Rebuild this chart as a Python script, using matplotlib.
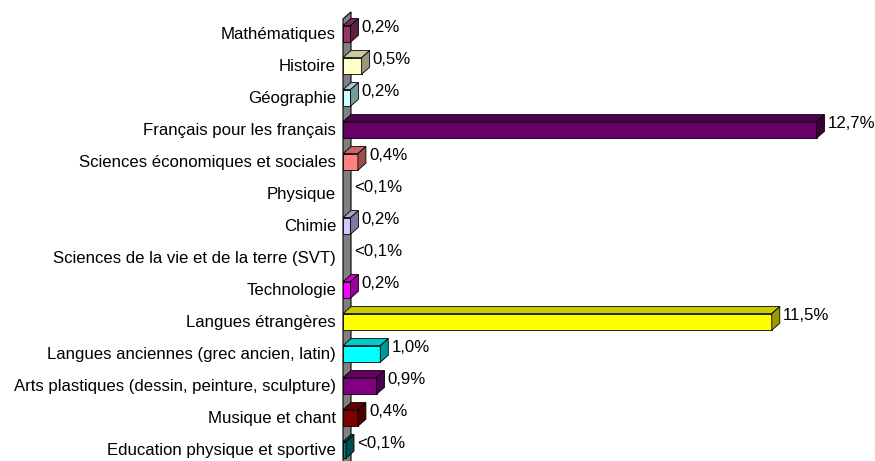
import matplotlib
matplotlib.use('Agg')
import matplotlib.pyplot as plt
from matplotlib.patches import Polygon
import matplotlib.colors as mcolors

plt.rcParams['font.family'] = ['Liberation Sans', 'DejaVu Sans']

subjects = ['Mathématiques', 'Histoire', 'Géographie', 'Français pour les français',
            'Sciences économiques et sociales', 'Physique', 'Chimie',
            'Sciences de la vie et de la terre (SVT)', 'Technologie', 'Langues étrangères',
            'Langues anciennes (grec ancien, latin)', 'Arts plastiques (dessin, peinture, sculpture)',
            'Musique et chant', 'Education physique et sportive']
values = [0.2, 0.5, 0.2, 12.7, 0.4, 0.0, 0.2, 0.0, 0.2, 11.5, 1.0, 0.9, 0.4, 0.08]
labels = ['0,2%', '0,5%', '0,2%', '12,7%', '0,4%', '<0,1%', '0,2%', '<0,1%', '0,2%',
          '11,5%', '1,0%', '0,9%', '0,4%', '<0,1%']
colors = ['#993366', '#FFFFCC', '#CCFFFF', '#660066', '#FF8080', '#0066CC', '#CCCCFF',
          '#000080', '#FF00FF', '#FFFF00', '#00FFFF', '#800080', '#800000', '#008080']

fig = plt.figure(figsize=(8.75, 4.61), dpi=100)
ax = fig.add_axes([343 / 875, 0, 522 / 875, 1])
ax.set_xlim(0, 14)
ax.set_ylim(13.375, -1.031)

dx = 0.2145   # depth in % units
dy = 0.22     # depth in row units
h = 0.52
off = 0.03
fs = 12.1


def shade(c, f):
    r, g, b = mcolors.to_rgb(c)
    return (r * f, g * f, b * f)


# left wall
n = len(subjects)
wall_top = -0.44
wall = Polygon([(0, 14), (0, wall_top), (dx, wall_top - dy), (dx, 14)],
               closed=True, facecolor='#808080', edgecolor='black', lw=0.8, clip_on=False)
ax.add_patch(wall)

rows = list(range(n))
centers = [r + off for r in rows]
for i in rows:
    v = values[i]
    if v <= 0:
        continue
    c = centers[i]
    y0 = c - h / 2
    y1 = c + h / 2
    ax.barh(c, v, height=h, color=colors[i], edgecolor='black', lw=0.6, zorder=3)
    top = Polygon([(0, y0), (v, y0), (v + dx, y0 - dy), (dx, y0 - dy)],
                  closed=True, facecolor=shade(colors[i], 0.8), edgecolor='black', lw=0.6, zorder=3)
    side = Polygon([(v, y0), (v, y1), (v + dx, y1 - dy), (v + dx, y0 - dy)],
                   closed=True, facecolor=shade(colors[i], 0.6), edgecolor='black', lw=0.6, zorder=3)
    ax.add_patch(top)
    ax.add_patch(side)

for i in rows:
    ax.annotate(labels[i], (values[i] + dx, centers[i] - dy), xytext=(3, -1),
                textcoords='offset pixels', va='center', ha='left', fontsize=fs)

ax.set_yticks(rows)
ax.set_yticklabels(subjects, fontsize=fs)
ax.tick_params(axis='y', length=0, pad=5)
ax.set_xticks([])
for s in ax.spines.values():
    s.set_visible(False)
ax.patch.set_alpha(0)

fig.savefig('out.png', dpi=100)
